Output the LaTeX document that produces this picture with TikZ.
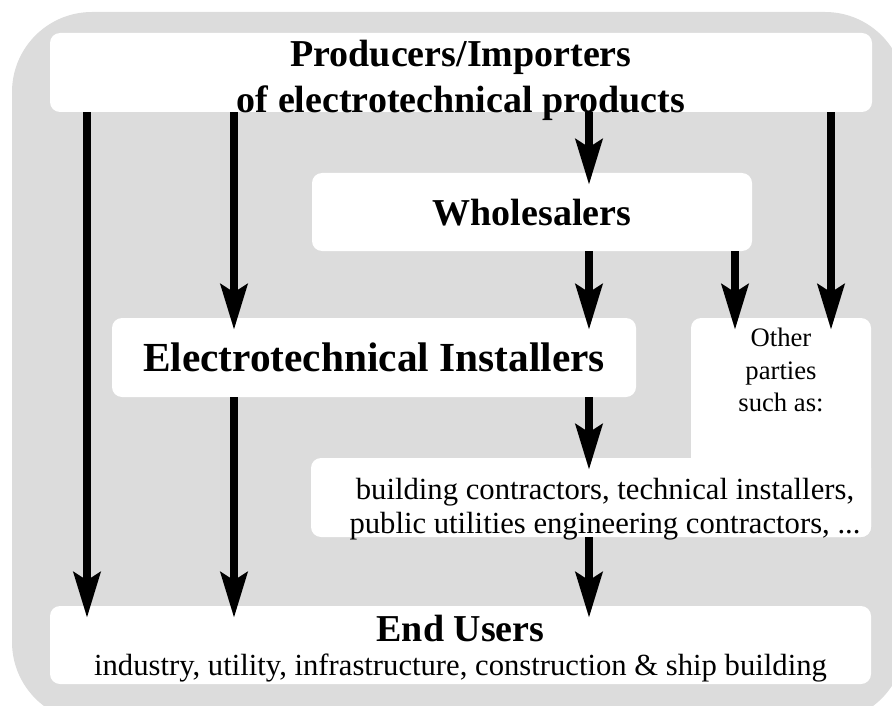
\documentclass[tikz,border=0pt]{standalone}
\usepackage{fontspec}
\setmainfont{Liberation Serif}
\usepackage{xcolor}
\usetikzlibrary{arrows.meta,positioning}
\definecolor{bggrey}{HTML}{DCDCDC}

\begin{document}
\begin{tikzpicture}[
    x=0.75pt, y=-0.75pt,
    box/.style={fill=white, rounded corners=7.5pt, inner sep=0pt, text depth=0pt, align=center},
    head/.style={font=\bfseries\fontsize{28.5}{34.5}\selectfont},
    body/.style={font=\fontsize{23}{25.5}\selectfont},
    flow/.style={line width=6pt, -{Stealth[length=34pt, width=20pt, inset=6pt]}}
]
\clip (0,0) rectangle (892,706);
\fill[bggrey, rounded corners=60pt] (12,12) rectangle (905,722);

% boxes
\node[box, head, minimum width=616.5pt, minimum height=59.25pt,
      label={[head, align=center, inner sep=0pt, text depth=0pt, yshift=-2.5pt]center:{Producers/Importers\\of electrotechnical products}}] (prod) at (461,72.5) {};
\node[box, head, minimum width=330pt, minimum height=58.5pt] (whole) at (532,212) {Wholesalers};
\node[box, font=\bfseries\fontsize{31}{36}\selectfont, minimum width=393pt, minimum height=59.25pt] (inst) at (374,357.5)
    {Electrotechnical Installers};
\node[box, minimum width=135pt, minimum height=164.25pt] (otherbox) at (781,427.5) {};
\node[inner sep=0pt, align=center, font=\fontsize{20}{24.5}\selectfont, below=7.5pt of otherbox.north] (other)
    {Other\\parties\\such as:};
\node[box, minimum width=420pt, minimum height=59.25pt,
      label={[body, align=center, inner sep=0pt, text depth=0pt, xshift=10.5pt, yshift=-6pt]center:{building contractors, technical installers,\\public utilities engineering contractors, ...}}] (build) at (591,497.5) {};
\node[box, body, minimum width=615.75pt, minimum height=58.5pt] (users) at (460.5,645)
    {{\bfseries\fontsize{28.5}{25.5}\selectfont End Users}\\industry, utility, infrastructure, construction \& ship building};

% lanes
\coordinate (l1) at (87,0);
\coordinate (l2) at (234,0);
\coordinate (l3) at (589,0);
\coordinate (l4) at (735,0);
\coordinate (l5) at (831,0);

\draw[flow] (prod.south -| l1) -- ([yshift=-9pt]users.north -| l1);
\draw[flow] (prod.south -| l2) -- ([yshift=-9pt]inst.north -| l2);
\draw[flow] (inst.south -| l2) -- ([yshift=-9pt]users.north -| l2);
\draw[flow] (prod.south -| l3) -- ([yshift=-9pt]whole.north -| l3);
\draw[flow] (whole.south -| l3) -- ([yshift=-9pt]inst.north -| l3);
\draw[flow] (inst.south -| l3) -- ([yshift=-9pt]build.north -| l3);
\draw[flow] (build.south -| l3) -- ([yshift=-9pt]users.north -| l3);
\draw[flow] (whole.south -| l4) -- ([yshift=-9pt]otherbox.north -| l4);
\draw[flow] (prod.south -| l5) -- ([yshift=-9pt]otherbox.north -| l5);
\end{tikzpicture}
\end{document}
